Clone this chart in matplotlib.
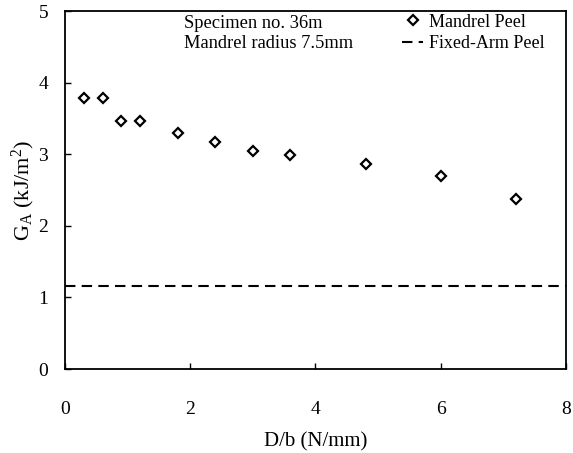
import matplotlib
matplotlib.use("Agg")
import matplotlib.pyplot as plt

plt.rcParams['font.family'] = ['Liberation Serif', 'DejaVu Serif']
plt.rcParams['mathtext.fontset'] = 'custom'
plt.rcParams['mathtext.rm'] = 'Liberation Serif'
plt.rcParams['mathtext.it'] = 'Liberation Serif:italic'

# mandrel peel results
load_per_width = [0.3, 0.6, 0.9, 1.2, 1.8, 2.4, 3.0, 3.6, 4.8, 6.0, 7.2]
mandrel_ga = [3.79, 3.78, 3.46, 3.46, 3.29, 3.17, 3.04, 2.99, 2.86, 2.69, 2.37]
fixed_arm_ga = 1.16

fig = plt.figure(figsize=(5.73, 4.53), dpi=100)
ax = fig.add_axes([0.1134, 0.1854, 0.8743, 0.7903])

ax.plot(load_per_width, mandrel_ga, linestyle='none', marker='D', markersize=5.5,
        markerfacecolor='white', markeredgecolor='black', markeredgewidth=1.6,
        label='Mandrel Peel')
ax.axhline(fixed_arm_ga, color='black', linestyle=(0, (5, 3)), linewidth=1.5,
           label='Fixed-Arm Peel')

ax.set_xlim(0, 8)
ax.set_ylim(0, 5)
ax.set_xticks([0, 2, 4, 6, 8])
ax.set_yticks([0, 1, 2, 3, 4, 5])
ax.tick_params(direction='in', length=4, width=1, labelsize=14)
ax.tick_params(axis='x', pad=23)
ax.tick_params(axis='y', pad=12)
for s in ax.spines.values():
    s.set_linewidth(1.3)

ax.set_xlabel('D/b (N/mm)', fontsize=15, labelpad=10)
ax.set_ylabel(r'G$_\mathrm{A}$ (kJ/m$^2$)', fontsize=16, labelpad=1)

ax.text(0.237, 0.99, 'Specimen no. 36m\nMandrel radius 7.5mm', transform=ax.transAxes,
        ha='left', va='top', fontsize=13.3, linespacing=1.3)

ax.legend(loc='upper right', bbox_to_anchor=(0.975, 1.018), frameon=False, fontsize=13,
          handlelength=1.2, handletextpad=0.3, labelspacing=0.25, borderaxespad=0.3,
          borderpad=0.2)

fig.savefig('out.png', dpi=100)
